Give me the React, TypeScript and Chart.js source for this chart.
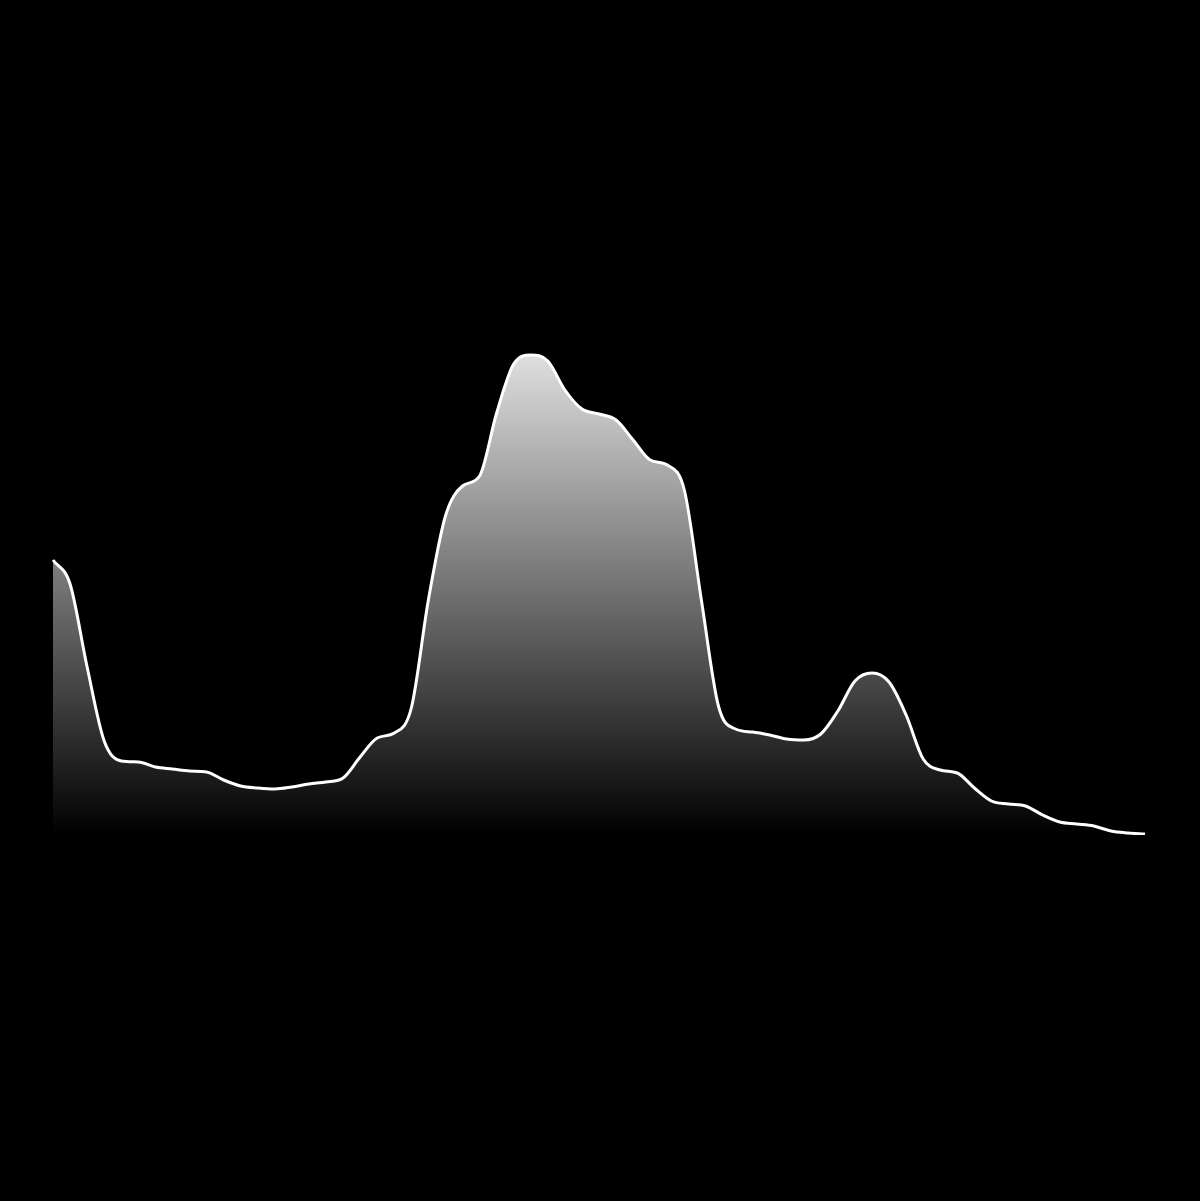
import { useEffect, useRef } from 'react'
import { Chart, registerables } from 'chart.js'

Chart.register(...registerables)

const counts = [
  55, 50.2, 33.6, 18.8, 14.8, 14.6, 13.6, 13.2, 12.8, 12.6,
  11, 9.8, 9.4, 9.2, 9.6, 10.2, 10.6, 11.4, 15.6, 19.4,
  20.4, 25.4, 47, 63.8, 69.8, 71.8, 84.4, 94.2, 96, 94.8,
  89, 85.2, 84.2, 83, 79, 75, 74, 69, 47, 25.8,
  21.2, 20.6, 20, 19.2, 19, 20.2, 24.8, 30.8, 32.4, 30.6,
  24, 15.2, 13, 12.4, 9.4, 6.8, 6.2, 5.8, 4, 2.6,
  2.2, 1.8, 0.8, 0.4, 0.2,
]

// bin labels (hidden axis)
const bins = counts.map((_, i) => String(i))

const yMin = 0
const yMax = 110

const App = () => {
  const canvasRef = useRef<HTMLCanvasElement>(null)
  const chartRef = useRef<Chart | null>(null)

  useEffect(() => {
    if (!canvasRef.current) return
    if (chartRef.current) chartRef.current.destroy()

    chartRef.current = new Chart(canvasRef.current, {
      type: 'line',
      data: {
        labels: bins,
        datasets: [{
          data: counts,
          borderColor: '#ffffff',
          borderWidth: 3,
          pointRadius: 0,
          cubicInterpolationMode: 'monotone',
          fill: 'start',
          backgroundColor: (ctx: any) => {
            const { chart } = ctx
            const area = chart.chartArea
            if (!area) return 'rgba(255,255,255,0.3)'
            const g = chart.ctx.createLinearGradient(0, area.top, 0, area.bottom)
            g.addColorStop(0, 'rgba(255,255,255,1)')
            g.addColorStop(1, 'rgba(255,255,255,0)')
            return g
          },
        }],
      },
      options: {
        responsive: false,
        animation: false,
        devicePixelRatio: 1,
        layout: {
          padding: { left: 53, right: 55, top: 285, bottom: 366 },
        },
        scales: {
          x: { display: false },
          y: { display: false, min: yMin, max: yMax },
        },
        plugins: {
          legend: { display: false },
          tooltip: { enabled: false },
        },
      },
    })

    return () => {
      if (chartRef.current) {
        chartRef.current.destroy()
        chartRef.current = null
      }
    }
  }, [])

  return (
    <div style={{ position: 'fixed', left: 0, top: 0, width: 1200, height: 1201, background: '#000' }}>
      <canvas ref={canvasRef} width={1200} height={1201} style={{ display: 'block' }} />
    </div>
  )
}

export default App
